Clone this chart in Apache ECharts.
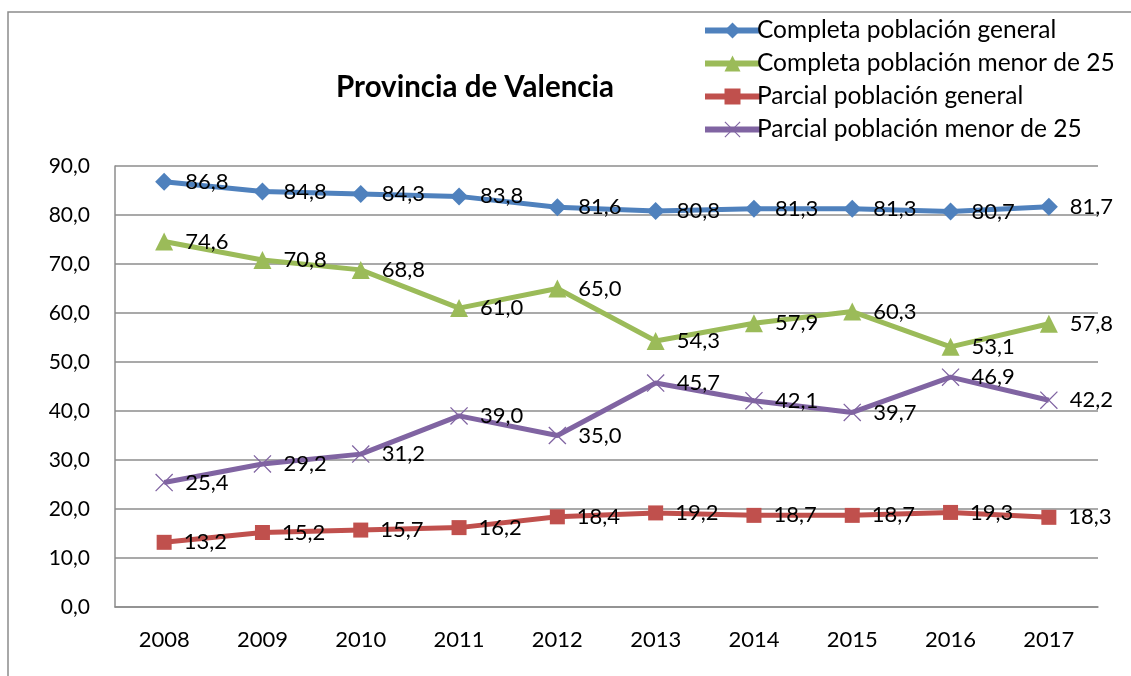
<!DOCTYPE html>
<html>
<head>
<meta charset="utf-8">
<script src="https://cdn.jsdelivr.net/npm/echarts@6/dist/echarts.min.js"></script>
<style>
  html, body { margin: 0; padding: 0; background: #fff; }
  #chart { width: 1131px; height: 676px; }
</style>
</head>
<body>
<div id="chart"></div>
<script>
"use strict";

var years = ['2008', '2009', '2010', '2011', '2012', '2013', '2014', '2015', '2016', '2017'];
var completaGeneral = [86.8, 84.8, 84.3, 83.8, 81.6, 80.8, 81.3, 81.3, 80.7, 81.7];
var completaMenor25 = [74.6, 70.8, 68.8, 61.0, 65.0, 54.3, 57.9, 60.3, 53.1, 57.8];
var parcialGeneral = [13.2, 15.2, 15.7, 16.2, 18.4, 19.2, 18.7, 18.7, 19.3, 18.3];
var parcialMenor25 = [25.4, 29.2, 31.2, 39.0, 35.0, 45.7, 42.1, 39.7, 46.9, 42.2];
var seriesNames = ['Completa población general', 'Completa población menor de 25',
    'Parcial población general', 'Parcial población menor de 25'];

var FONT = 'Lato, "Open Sans", sans-serif';

function coma(v) {
    return Number(v).toFixed(1).replace('.', ',');
}

// aspa (x) como poligono relleno
var crossPath = 'path://M0,1 L1,0 L10,9 L19,0 L20,1 L11,10 L20,19 L19,20 L10,11 L1,20 L0,19 L9,10 Z';

function makeSeries(name, data, color, symbol, size) {
    return {
        name: name,
        type: 'line',
        data: data,
        symbol: symbol,
        symbolSize: size,
        lineStyle: { color: color, width: 5 },
        itemStyle: { color: color },
        label: {
            show: true,
            position: 'right',
            distance: 12,
            color: '#000',
            fontSize: 22,
            fontFamily: FONT,
            formatter: function (p) { return coma(p.value); }
        },
        emphasis: { disabled: true },
        z: 3
    };
}

var myChart = echarts.init(document.getElementById('chart'));

var option = {
    animation: false,
    backgroundColor: '#fff',
    graphic: [{
        type: 'rect',
        shape: { x: 8, y: 12, width: 1200, height: 800 },
        style: { fill: 'none', stroke: '#8c8c8c', lineWidth: 1.5 },
        silent: true
    }],
    title: {
        text: 'Provincia de Valencia',
        left: 470,
        top: 67,
        textAlign: 'center',
        textStyle: { fontSize: 29.5, fontWeight: 'bold', fontFamily: FONT, color: '#000' }
    },
    legend: {
        orient: 'vertical',
        left: 697,
        top: 13,
        itemWidth: 55,
        itemHeight: 20,
        itemGap: 8,
        lineStyle: { width: 6 },
        textStyle: { fontSize: 24.5, fontFamily: FONT, color: '#000', padding: [0, 0, 0, -8] },
        data: seriesNames
    },
    grid: { left: 115, top: 166, right: 33, bottom: 69, containLabel: false },
    xAxis: {
        type: 'category',
        data: years,
        boundaryGap: true,
        axisLine: { lineStyle: { color: '#8c8c8c', width: 1.5 } },
        axisTick: { show: false },
        axisLabel: { fontSize: 22, fontFamily: FONT, color: '#000', margin: 22 }
    },
    yAxis: {
        type: 'value',
        min: 0,
        max: 90,
        interval: 10,
        axisLine: { show: true, lineStyle: { color: '#8c8c8c', width: 1.5 } },
        axisTick: { show: false },
        splitLine: { lineStyle: { color: '#8c8c8c', width: 1.5 } },
        axisLabel: { fontSize: 21, fontFamily: FONT, color: '#000', margin: 25, formatter: coma }
    },
    series: [
        makeSeries(seriesNames[0], completaGeneral, '#4F81BD', 'diamond', 18),
        makeSeries(seriesNames[1], completaMenor25, '#9BBB59', 'triangle', 18),
        makeSeries(seriesNames[2], parcialGeneral, '#C0504D', 'rect', 15),
        makeSeries(seriesNames[3], parcialMenor25, '#8064A2', crossPath, 18)
    ]
};

myChart.setOption(option);
</script>
</body>
</html>
